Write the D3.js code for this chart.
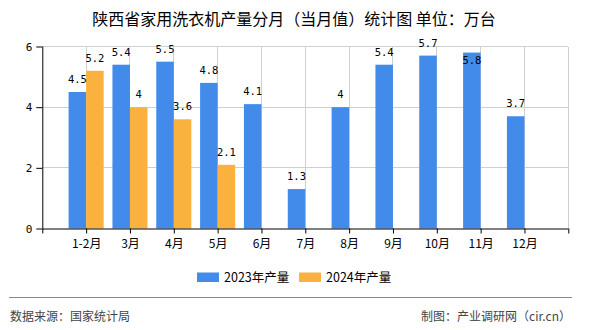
<!DOCTYPE html>
<html><head><meta charset="utf-8">
<script src="https://cdn.jsdelivr.net/npm/d3@7"></script>
<style>
html,body{margin:0;padding:0;background:#fff;}
svg{display:block;}
</style></head>
<body><svg id="c" width="590" height="330"></svg>
<script>
const categories = ["1-2月","3月","4月","5月","6月","7月","8月","9月","10月","11月","12月"];
const values2023 = [4.5,5.4,5.5,4.8,4.1,1.3,4,5.4,5.7,5.8,3.7];
const values2024 = [5.2,4,3.6,2.1,null,null,null,null,null,null,null];
const seriesNames = ["2023年产量","2024年产量"];
const colors = ["#428BEB","#FBB13E"];
const yTicks = [0,2,4,6];

const svg = d3.select("#c");
const cjk = "'Noto Sans CJK SC','Noto Sans',sans-serif";
const mono = "'DejaVu Sans Mono',monospace";
const L = 42.3, R = 568.3, T = 46.5, B = 228.5;

const x = d3.scalePoint().domain(["_s", ...categories, "_e"]).range([L, R]);
const step = x.step();
const bw = step * 0.4;
const y = d3.scaleLinear().domain([0,6]).range([B, T]);

// grid
const g = svg.append("g");
g.selectAll("line.h").data(yTicks.filter(d=>d>0)).enter().append("line")
  .attr("x1", L).attr("x2", R).attr("y1", d=>y(d)).attr("y2", d=>y(d))
  .attr("stroke", "#d0d0d0").attr("stroke-width", 1).attr("shape-rendering","crispEdges");
g.selectAll("line.v").data([...categories, "_e"]).enter().append("line")
  .attr("x1", d=>x(d)).attr("x2", d=>x(d)).attr("y1", T).attr("y2", B)
  .attr("stroke", "#d0d0d0").attr("stroke-width", 1).attr("shape-rendering","crispEdges");

// bars
const bars = svg.append("g");
bars.selectAll("rect.a").data(categories).enter().append("rect")
  .attr("x", d=>x(d)-bw).attr("width", bw)
  .attr("y", (d,i)=>y(values2023[i])).attr("height", (d,i)=>B - y(values2023[i]))
  .attr("fill", colors[0]);
bars.selectAll("rect.b").data(categories.filter((d,i)=>values2024[i]!=null)).enter().append("rect")
  .attr("x", d=>x(d)).attr("width", bw)
  .attr("y", (d)=>y(values2024[categories.indexOf(d)]))
  .attr("height", d=>B - y(values2024[categories.indexOf(d)]))
  .attr("fill", colors[1]);

// labels
function lab(v){ return String(v); }
const labels = svg.append("g").attr("font-family", mono).attr("font-size", 10.5).attr("fill", "#000").attr("text-anchor","middle");
categories.forEach((c,i)=>{
  const v = values2023[i];
  const top = y(v);
  const inside = top - 9 < 45;
  labels.append("text").attr("x", x(c)-bw/2).attr("y", inside ? top+11 : top-9).text(lab(v));
  const w = values2024[i];
  if (w != null) labels.append("text").attr("x", x(c)+bw/2).attr("y", y(w)-9).text(lab(w));
});

// axes
const xAxis = d3.axisBottom(x).tickValues(["_s", ...categories, "_e"]).tickSize(5).tickPadding(4)
  .tickFormat(d => d.startsWith("_") ? "" : d);
const xg = svg.append("g").attr("transform", `translate(0,${B})`).call(xAxis);
xg.select(".domain").attr("stroke","#000").attr("d", `M${L},0.5H${R}`);
xg.selectAll(".tick line").attr("stroke","#000");
xg.selectAll("text").attr("font-family", cjk).attr("font-size", 12).attr("fill","#000").attr("dy","0.9em");

const yAxis = d3.axisLeft(y).tickValues(yTicks).tickSize(6).tickPadding(4).tickFormat(d3.format("d"));
const yg = svg.append("g").attr("transform", `translate(${L},0)`).call(yAxis);
yg.select(".domain").attr("stroke","#000").attr("d", `M0.5,${T}V${B}`);
yg.selectAll(".tick line").attr("stroke","#000");
yg.selectAll("text").attr("font-family", mono).attr("font-size", 11).attr("fill","#000");

// title
svg.append("text").attr("x", 294).attr("y", 25).attr("text-anchor","middle")
  .attr("font-family", cjk).attr("font-size", 16).attr("fill","#000")
  .text("陕西省家用洗衣机产量分月（当月值）统计图 单位：万台");

// legend
const legX = [197, 299];
const leg = svg.append("g");
seriesNames.forEach((n,i)=>{
  leg.append("rect").attr("x", legX[i]).attr("y", 272.5).attr("width", 22).attr("height", 9.5).attr("fill", colors[i]);
  leg.append("text").attr("x", legX[i]+27).attr("y", 282).attr("font-family", cjk).attr("font-size", 12.5).attr("fill","#000").text(n);
});

// footer
svg.append("line").attr("x1", 9).attr("x2", 572).attr("y1", 297.5).attr("y2", 297.5).attr("stroke", "#888").attr("stroke-width", 1.2);
svg.append("text").attr("x", 10).attr("y", 321).attr("font-family", cjk).attr("font-size", 12).attr("fill","#444").text("数据来源：国家统计局");
svg.append("text").attr("x", 571).attr("y", 321).attr("text-anchor","end").attr("font-family", cjk).attr("font-size", 12).attr("fill","#444").text("制图：产业调研网（cir.cn）");
</script></body></html>
